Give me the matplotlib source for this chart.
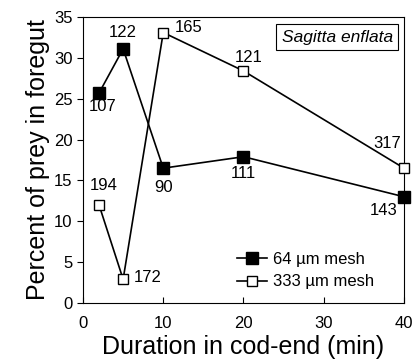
import numpy as np
import matplotlib
matplotlib.use('Agg')
import matplotlib.pyplot as plt

plt.rcParams['font.family'] = ['Liberation Sans', 'DejaVu Sans']

# durata in cod-end (min)
durata = [2, 5, 10, 20, 40]
# 64 um mesh (pieni)
perc_64 = [25.7, 31.1, 16.5, 17.9, 13.0]
n_64 = ['107', '122', '90', '111', '143']
# 333 um mesh (vuoti)
perc_333 = [12.0, 2.9, 33.1, 28.4, 16.5]
n_333 = ['194', '172', '165', '121', '317']

fig = plt.figure(figsize=(4.14, 3.62), dpi=100)
ax = fig.add_axes([83/414, 1 - 303/362, (404-83)/414, (303-17)/362])

ax.plot(durata, perc_64, '-s', color='black', mfc='black', mec='black', ms=8, lw=1.2,
        label='64 µm mesh', clip_on=False, zorder=3)
ax.plot(durata, perc_333, '-s', color='black', mfc='white', mec='black', ms=7.5, lw=1.2,
        label='333 µm mesh', clip_on=False, zorder=3)

# numeri di campione accanto ai punti (offset in punti)
off_64 = [(2.5, -10), (0, 12), (0, -14), (0, -12), (-15, -10)]
off_333 = [(3.5, 14), (18, 1.5), (18, 3.5), (4, 10), (-12, 18)]
for x, y, t, o in zip(durata, perc_64, n_64, off_64):
    ax.annotate(t, (x, y), xytext=o, textcoords='offset points',
                ha='center', va='center', fontsize=12)
for x, y, t, o in zip(durata, perc_333, n_333, off_333):
    ax.annotate(t, (x, y), xytext=o, textcoords='offset points',
                ha='center', va='center', fontsize=12)

ax.text(0.965, 0.93, 'Sagitta enflata', transform=ax.transAxes, ha='right', va='center',
        fontsize=12.5, style='italic',
        bbox=dict(boxstyle='square,pad=0.3', fc='white', ec='black', lw=0.8))

ax.set_xlim(0, 40)
ax.set_ylim(0, 35)
ax.set_xticks([0, 10, 20, 30, 40])
ax.set_yticks(np.arange(0, 36, 5))
ax.tick_params(axis='x', direction='in', labelsize=12, pad=9, length=4)
ax.tick_params(axis='y', direction='out', labelsize=12, length=4)
ax.set_xlabel('Duration in cod-end (min)', fontsize=18, labelpad=3)
ax.set_ylabel('Percent of prey in foregut', fontsize=18, labelpad=3)

ax.legend(loc='lower right', frameon=False, fontsize=12, handlelength=1.8,
          handletextpad=0.4, labelspacing=0.45, bbox_to_anchor=(0.955, -0.005))

fig.savefig('out.png', dpi=100)
